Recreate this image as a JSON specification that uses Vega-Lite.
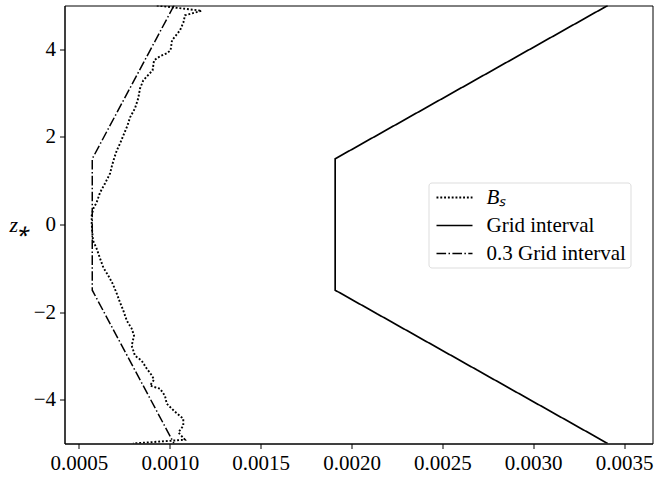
{
  "$schema": "https://vega.github.io/schema/vega-lite/v6.json",
  "autosize": "none",
  "width": 588,
  "height": 438,
  "padding": {"left": 64.5, "top": 5.5, "right": 1.5, "bottom": 33.5},
  "background": "white",
  "config": {
    "view": {"stroke": "black", "strokeWidth": 1},
    "font": "Liberation Serif",
    "axis": {"labelFont": "Liberation Serif", "labelFontSize": 21, "labelColor": "black", "domainColor": "black", "tickColor": "black", "tickSize": 5, "grid": false, "labelPadding": 4}
  },
  "data": {"values": [
    {"s": "Bₛ", "i": 1, "x": 0.000928, "z": 5.0},
    {"s": "Bₛ", "i": 2, "x": 0.001175, "z": 4.88},
    {"s": "Bₛ", "i": 3, "x": 0.001083, "z": 4.777},
    {"s": "Bₛ", "i": 4, "x": 0.001075, "z": 4.617},
    {"s": "Bₛ", "i": 5, "x": 0.001056, "z": 4.434},
    {"s": "Bₛ", "i": 6, "x": 0.001012, "z": 4.206},
    {"s": "Bₛ", "i": 7, "x": 0.001004, "z": 3.977},
    {"s": "Bₛ", "i": 8, "x": 0.000984, "z": 3.909},
    {"s": "Bₛ", "i": 9, "x": 0.000946, "z": 3.84},
    {"s": "Bₛ", "i": 10, "x": 0.000913, "z": 3.749},
    {"s": "Bₛ", "i": 11, "x": 0.000905, "z": 3.52},
    {"s": "Bₛ", "i": 12, "x": 0.000869, "z": 3.36},
    {"s": "Bₛ", "i": 13, "x": 0.000854, "z": 3.291},
    {"s": "Bₛ", "i": 14, "x": 0.000836, "z": 3.109},
    {"s": "Bₛ", "i": 15, "x": 0.000826, "z": 2.88},
    {"s": "Bₛ", "i": 16, "x": 0.000808, "z": 2.651},
    {"s": "Bₛ", "i": 17, "x": 0.000781, "z": 2.446},
    {"s": "Bₛ", "i": 18, "x": 0.000767, "z": 2.263},
    {"s": "Bₛ", "i": 19, "x": 0.000744, "z": 2.034},
    {"s": "Bₛ", "i": 20, "x": 0.000726, "z": 1.851},
    {"s": "Bₛ", "i": 21, "x": 0.000708, "z": 1.691},
    {"s": "Bₛ", "i": 22, "x": 0.000695, "z": 1.531},
    {"s": "Bₛ", "i": 23, "x": 0.000682, "z": 1.349},
    {"s": "Bₛ", "i": 24, "x": 0.000671, "z": 1.166},
    {"s": "Bₛ", "i": 25, "x": 0.000643, "z": 0.937},
    {"s": "Bₛ", "i": 26, "x": 0.000616, "z": 0.731},
    {"s": "Bₛ", "i": 27, "x": 0.000597, "z": 0.503},
    {"s": "Bₛ", "i": 28, "x": 0.000579, "z": 0.366},
    {"s": "Bₛ", "i": 29, "x": 0.00057, "z": 0.206},
    {"s": "Bₛ", "i": 30, "x": 0.00057, "z": 0.023},
    {"s": "Bₛ", "i": 31, "x": 0.000573, "z": -0.183},
    {"s": "Bₛ", "i": 32, "x": 0.000577, "z": -0.366},
    {"s": "Bₛ", "i": 33, "x": 0.000597, "z": -0.549},
    {"s": "Bₛ", "i": 34, "x": 0.000616, "z": -0.777},
    {"s": "Bₛ", "i": 35, "x": 0.000634, "z": -0.983},
    {"s": "Bₛ", "i": 36, "x": 0.000661, "z": -1.166},
    {"s": "Bₛ", "i": 37, "x": 0.000685, "z": -1.349},
    {"s": "Bₛ", "i": 38, "x": 0.000708, "z": -1.577},
    {"s": "Bₛ", "i": 39, "x": 0.000726, "z": -1.783},
    {"s": "Bₛ", "i": 40, "x": 0.000744, "z": -1.966},
    {"s": "Bₛ", "i": 41, "x": 0.000763, "z": -2.194},
    {"s": "Bₛ", "i": 42, "x": 0.00079, "z": -2.377},
    {"s": "Bₛ", "i": 43, "x": 0.000803, "z": -2.537},
    {"s": "Bₛ", "i": 44, "x": 0.00079, "z": -2.766},
    {"s": "Bₛ", "i": 45, "x": 0.000808, "z": -2.994},
    {"s": "Bₛ", "i": 46, "x": 0.000845, "z": -3.109},
    {"s": "Bₛ", "i": 47, "x": 0.000873, "z": -3.291},
    {"s": "Bₛ", "i": 48, "x": 0.000902, "z": -3.451},
    {"s": "Bₛ", "i": 49, "x": 0.000913, "z": -3.543},
    {"s": "Bₛ", "i": 50, "x": 0.000891, "z": -3.68},
    {"s": "Bₛ", "i": 51, "x": 0.000946, "z": -3.749},
    {"s": "Bₛ", "i": 52, "x": 0.000973, "z": -3.909},
    {"s": "Bₛ", "i": 53, "x": 0.000983, "z": -4.091},
    {"s": "Bₛ", "i": 54, "x": 0.001028, "z": -4.274},
    {"s": "Bₛ", "i": 55, "x": 0.001074, "z": -4.434},
    {"s": "Bₛ", "i": 56, "x": 0.001074, "z": -4.594},
    {"s": "Bₛ", "i": 57, "x": 0.001047, "z": -4.747},
    {"s": "Bₛ", "i": 58, "x": 0.001083, "z": -4.914},
    {"s": "Bₛ", "i": 59, "x": 0.000797, "z": -5.0},
    {"s": "Grid interval", "i": 1, "x": 0.00341, "z": 5.0},
    {"s": "Grid interval", "i": 2, "x": 0.00191, "z": 1.5},
    {"s": "Grid interval", "i": 3, "x": 0.00191, "z": -1.5},
    {"s": "Grid interval", "i": 4, "x": 0.00341, "z": -5.0},
    {"s": "0.3 Grid interval", "i": 1, "x": 0.001023, "z": 5.0},
    {"s": "0.3 Grid interval", "i": 2, "x": 0.000573, "z": 1.5},
    {"s": "0.3 Grid interval", "i": 3, "x": 0.000573, "z": -1.5},
    {"s": "0.3 Grid interval", "i": 4, "x": 0.001023, "z": -5.0}
  ]},
  "mark": {"type": "line", "color": "black", "clip": true, "strokeCap": "butt"},
  "encoding": {
    "x": {"field": "x", "type": "quantitative",
      "scale": {"domain": [0.0004202, 0.0036566], "nice": false, "zero": false},
      "axis": {"values": [0.0005, 0.001, 0.0015, 0.002, 0.0025, 0.003, 0.0035], "format": ".4f", "title": null, "labelFont": "Liberation Serif", "labelFontSize": 21}},
    "y": {"field": "z", "type": "quantitative",
      "scale": {"domain": [-5, 5], "nice": false},
      "axis": {"values": [-4, -2, 0, 2, 4], "labelFont": "Liberation Serif", "labelFontSize": 21, "title": "z⁎", "titleAngle": 0, "titleFont": "Liberation Serif", "titleFontSize": 22, "titleFontStyle": "italic", "titleFontWeight": "normal", "titleColor": "black", "titlePadding": 14, "titleBaseline": "middle", "titleAlign": "center"}},
    "order": {"field": "i", "type": "quantitative"},
    "strokeWidth": {"field": "s", "type": "nominal", "legend": null,
      "scale": {"domain": ["Bₛ", "Grid interval", "0.3 Grid interval"], "range": [1.9, 1.5, 1.5]}},
    "strokeDash": {"field": "s", "type": "nominal",
      "scale": {"domain": ["Bₛ", "Grid interval", "0.3 Grid interval"], "range": [[1.9, 1.9], [1, 0], [9.6, 2.4, 1.5, 2.4]]},
      "legend": {"title": null, "orient": "none", "legendX": 364, "legendY": 177, "symbolType": "M-1.8,0H1.8", "symbolSize": 400, "symbolStrokeWidth": 1.5, "symbolStrokeColor": "black", "symbolOffset": 11, "labelFont": "Liberation Serif", "labelFontSize": 21, "labelColor": "black", "labelOffset": 21, "rowPadding": 7, "padding": 4, "strokeColor": "#dddddd", "fillColor": "white", "cornerRadius": 3,
        "encode": {"labels": {"update": {"fontStyle": {"signal": "datum.label === 'Bₛ' ? 'italic' : 'normal'"}}}}}}
  }
}
